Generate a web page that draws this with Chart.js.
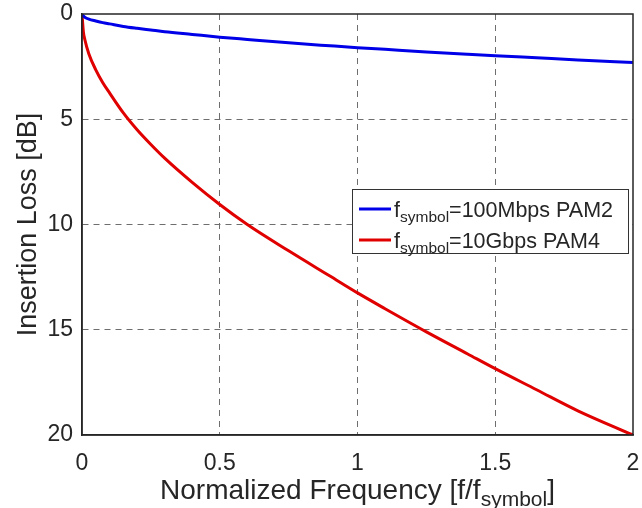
<!DOCTYPE html>
<html>
<head>
<meta charset="utf-8">
<script src="https://cdn.jsdelivr.net/npm/chart.js@4.4.0/dist/chart.umd.min.js"></script>
<style>
  html, body { margin: 0; padding: 0; background: #fff; }
  #wrap { width: 642px; height: 508px; position: relative; }
</style>
</head>
<body>
<div id="wrap"><canvas id="loss-chart"></canvas></div>
<script>
// normalized frequency f/f_symbol
const normFreq = [0, 0.005, 0.01, 0.025, 0.05, 0.075, 0.1, 0.15, 0.2, 0.25, 0.3, 0.4, 0.5, 0.6, 0.75, 0.9, 1.0, 1.1, 1.25, 1.4, 1.5, 1.65, 1.8, 2.0]
// insertion loss [dB]
const loss100M = [0, 0.1, 0.15, 0.24, 0.33, 0.41, 0.47, 0.59, 0.68, 0.76, 0.84, 0.97, 1.1, 1.21, 1.37, 1.51, 1.6, 1.68, 1.8, 1.91, 1.98, 2.08, 2.18, 2.31]
const loss10G = [0, 0.85, 1.2, 1.9, 2.65, 3.25, 3.75, 4.7, 5.5, 6.2, 6.85, 8.0, 9.05, 10.0, 11.25, 12.45, 13.25, 14.0, 15.1, 16.15, 16.85, 17.85, 18.85, 20]
const xTicks = [0, 0.5, 1, 1.5, 2]
const yTicks = [0, 5, 10, 15, 20]
const seriesNames = [
  { main: 'f', sub: 'symbol', rest: '=100Mbps PAM2' },
  { main: 'f', sub: 'symbol', rest: '=10Gbps PAM4' }
]

const blue = '#0000e8'
const red = '#e00000'
const textColor = '#262626'
const fontFam = '"Liberation Sans", Arial, Helvetica, sans-serif'

function toPoints(xs, ys) {
  return xs.map((x, i) => ({ x: x, y: ys[i] }))
}

// draw a string with a subscript part, returns width
function drawSubText(ctx, x, y, parts, size, subSize, measureOnly) {
  let cx = x
  parts.forEach(p => {
    ctx.font = (p.sub ? subSize : size) + 'px ' + fontFam
    const w = ctx.measureText(p.t).width
    if (!measureOnly) ctx.fillText(p.t, cx, p.sub ? y + size * 0.25 : y)
    cx += w
  })
  return cx - x
}

const extrasPlugin = {
  id: 'extras',
  afterDraw(chart) {
    const ctx = chart.ctx
    const a = chart.chartArea
    ctx.save()
    // box around the axes
    ctx.strokeStyle = textColor
    ctx.lineWidth = 1.5
    ctx.setLineDash([])
    ctx.strokeRect(a.left, a.top, a.right - a.left, a.bottom - a.top)

    ctx.fillStyle = textColor
    ctx.textBaseline = 'alphabetic'
    ctx.textAlign = 'left'
    // x axis title
    const xParts = [{ t: 'Normalized Frequency [f/f' }, { t: 'symbol', sub: true }, { t: ']' }]
    const w = drawSubText(ctx, 0, 0, xParts, 28, 21, true)
    drawSubText(ctx, (a.left + a.right) / 2 - w / 2, 499, xParts, 28, 21, false)

    // y axis title
    ctx.save()
    ctx.translate(36, (a.top + a.bottom) / 2)
    ctx.rotate(-Math.PI / 2)
    ctx.textAlign = 'center'
    ctx.font = '27px ' + fontFam
    ctx.fillText('Insertion Loss [dB]', 0, 0)
    ctx.restore()

    // legend
    const lx = 352, ly = 189, lw = 276, lh = 64
    ctx.fillStyle = '#fff'
    ctx.fillRect(lx, ly, lw, lh)
    ctx.strokeStyle = '#333'
    ctx.lineWidth = 1
    ctx.strokeRect(lx + 0.5, ly + 0.5, lw, lh)
    const colors = [blue, red]
    seriesNames.forEach((s, i) => {
      const yy = ly + 20 + i * 31
      ctx.strokeStyle = colors[i]
      ctx.lineWidth = 3
      ctx.beginPath()
      ctx.moveTo(lx + 7, yy)
      ctx.lineTo(lx + 39, yy)
      ctx.stroke()
      ctx.fillStyle = textColor
      drawSubText(ctx, lx + 42, yy + 8, [{ t: s.main }, { t: s.sub, sub: true }, { t: s.rest }], 21.5, 15.5, false)
    })
    ctx.restore()
  }
}

const gridColor = (c) => (c.tick && (c.tick.value === 0 || c.tick.value === 20 || c.tick.value === 2)) ? 'rgba(0,0,0,0)' : '#6e6e6e'

new Chart(document.getElementById('loss-chart'), {
  type: 'line',
  data: {
    datasets: [
      {
        label: 'PAM2',
        data: toPoints(normFreq, loss100M),
        borderColor: blue,
        borderWidth: 3,
        pointRadius: 0,
        cubicInterpolationMode: 'monotone'
      },
      {
        label: 'PAM4',
        data: toPoints(normFreq, loss10G),
        borderColor: red,
        borderWidth: 3,
        pointRadius: 0,
        cubicInterpolationMode: 'monotone'
      }
    ]
  },
  options: {
    responsive: true,
    maintainAspectRatio: false,
    animation: false,
    layout: { padding: { left: 0, top: 14, right: 9, bottom: 0 } },
    scales: {
      x: {
        type: 'linear',
        min: 0,
        max: 2,
        afterBuildTicks: (s) => { s.ticks = xTicks.map(v => ({ value: v })) },
        afterFit: (s) => { s.height = 73; s.paddingLeft = 0; s.paddingRight = 0 },
        ticks: {
          color: textColor,
          padding: 15,
          font: { size: 23, family: fontFam },
          callback: (v) => String(v)
        },
        grid: { color: gridColor, lineWidth: 1, drawTicks: false },
        border: { display: true, color: textColor, width: 1.5, dash: [6, 5] }
      },
      y: {
        type: 'linear',
        min: 0,
        max: 20,
        reverse: true,
        afterBuildTicks: (s) => { s.ticks = yTicks.map(v => ({ value: v })) },
        afterFit: (s) => { s.width = 82; s.paddingTop = 0; s.paddingBottom = 0 },
        ticks: {
          color: textColor,
          padding: 9,
          font: { size: 23, family: fontFam }
        },
        grid: { color: gridColor, lineWidth: 1, drawTicks: false },
        border: { display: true, color: textColor, width: 1.5, dash: [6, 5] }
      }
    },
    plugins: {
      legend: { display: false },
      tooltip: { enabled: false }
    }
  },
  plugins: [extrasPlugin]
})
</script>
</body>
</html>
